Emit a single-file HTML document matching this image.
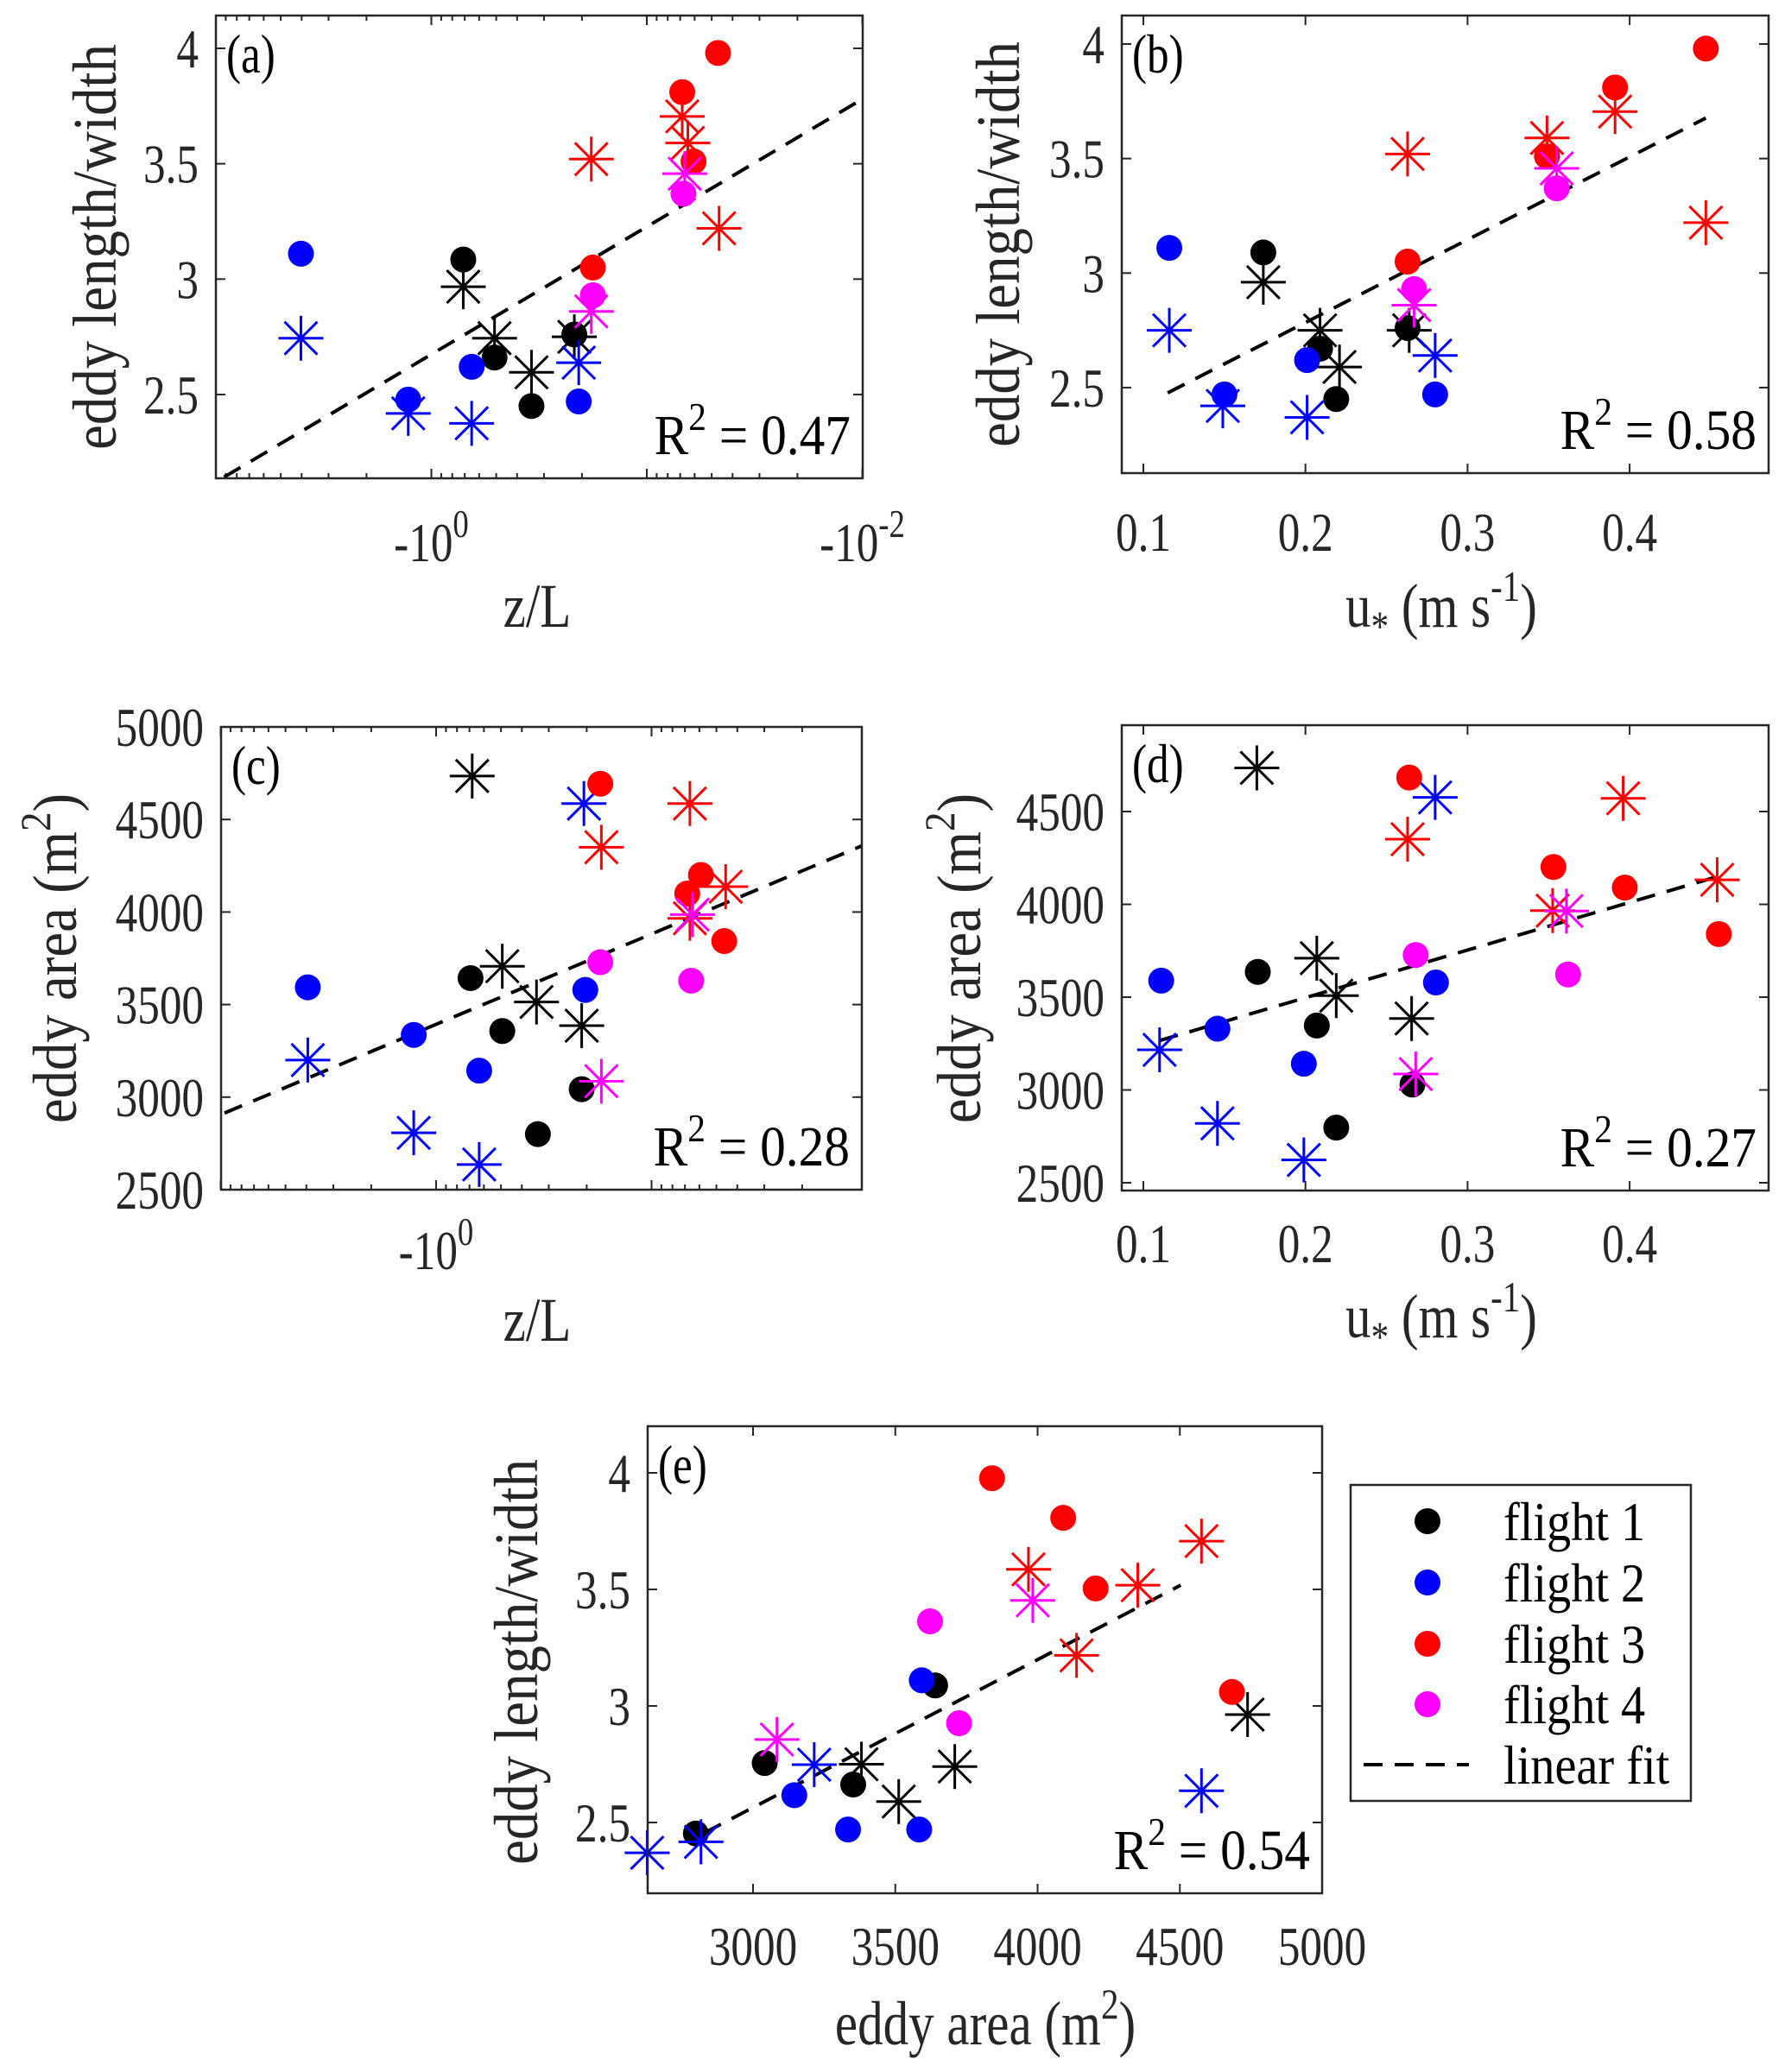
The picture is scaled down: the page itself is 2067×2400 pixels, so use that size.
<!DOCTYPE html>
<html><head><meta charset="utf-8">
<style>
html,body{margin:0;padding:0;background:#fff;}
svg{display:block;font-family:"Liberation Serif","Times New Roman",serif;}
</style></head>
<body>
<svg id="fig" width="2067" height="2400" viewBox="0 0 2067 2400" xmlns="http://www.w3.org/2000/svg"></svg>
<script>
// ---------- data ----------
const flightColors = ["#000000","#0000ff","#ff0000","#ff00ff"];
const legendLabels = ["flight 1","flight 2","flight 3","flight 4","linear fit"];

// Panel (a): z/L vs length/width
const aX = [-0.711,-0.509,-0.343,-0.217, -0.711,-0.509,-0.343,-0.217, -4.03,-1.28,-0.65,-0.207, -4.03,-1.28,-0.65,-0.207, -0.0467,-0.0685,-0.0607,-0.178, -0.0685,-0.0645,-0.181,-0.0462, -0.0676,-0.178, -0.0667,-0.181];
const aY = [3.085,2.66,2.45,2.76, 2.967,2.744,2.596,2.75, 3.11,2.478,2.62,2.47, 2.744,2.418,2.375,2.638, 3.98,3.81,3.51,3.05, 3.705,3.59,3.52,3.22, 3.37,2.93, 3.457,2.86];
const aFitX = [-9.16,-0.01];
const aFitY = [2.142,3.78];

// Panel (b): u* vs length/width
const bX = [0.174,0.209,0.219,0.263, 0.174,0.209,0.221,0.264, 0.116,0.150,0.201,0.280, 0.116,0.149,0.201,0.280, 0.447,0.391,0.349,0.263, 0.391,0.349,0.263,0.447, 0.355,0.267, 0.355,0.267];
const bY = [3.09,2.67,2.45,2.76, 2.96,2.75,2.59,2.75, 3.11,2.47,2.62,2.47, 2.75,2.42,2.37,2.64, 3.98,3.81,3.51,3.05, 3.705,3.59,3.52,3.22, 3.37,2.93, 3.457,2.86];
const bFitX = [0.115,0.447];
const bFitY = [2.477,3.677];

// Panel (c): z/L vs eddy area
const cX = [-0.692,-0.493,-0.337,-0.211, -0.68,-0.493,-0.342,-0.211, -3.94,-1.27,-0.631,-0.203, -3.94,-1.27,-0.631,-0.206, -0.173,-0.059,-0.0683,-0.046, -0.0664,-0.171,-0.0453,-0.0664, -0.173,-0.0655, -0.0645,-0.171];
const cY = [3643,3357,2800,3043, 4735,3707,3514,3386, 3593,3336,3143,3579, 3200,2807,2636,4586, 4693,4200,4100,3843, 4586,4350,4137,3966, 3729,3629, 3986,3086];
const cFitX = [-9.6,-0.0106];
const cFitY = [2914,4357];

// Panel (d): u* vs eddy area
const dX = [0.1706,0.207,0.219,0.266, 0.170,0.207,0.219,0.2655, 0.111,0.1457,0.199,0.2805, 0.110,0.1457,0.199,0.280, 0.264,0.353,0.397,0.455, 0.263,0.396,0.454,0.3525, 0.268,0.362, 0.361,0.268];
const dY = [3636,3347,2797,3029, 4735,3710,3508,3385, 3589,3330,3141,3579, 3216,2820,2623,4576, 4683,4201,4090,3840, 4351,4571,4132,3966, 3727,3622, 3964,3086];
const dFitX = [0.110,0.454];
const dFitY = [3266,4149];

// Panel (e): eddy area vs length/width
const eX = [3640,3041,3352,2799, 4738,3709,3381,3512, 3593,3145,3334,3584, 4576,3215,2817,2628, 3840,4090,4204,4683, 3968,4576,4352,4137, 3622,3724, 3983,3084];
const eY = [3.088,2.755,2.663,2.453, 2.963,2.74,2.75,2.59, 3.11,2.617,2.47,2.47, 2.636,2.748,2.417,2.37, 3.977,3.807,3.504,3.06, 3.586,3.707,3.518,3.217, 3.363,2.926, 3.453,2.856];
const eFitX = [2828,4503];
const eFitY = [2.455,3.518];

const pointFlight = [0,0,0,0, 0,0,0,0, 1,1,1,1, 1,1,1,1, 2,2,2,2, 2,2,2,2, 3,3, 3,3];
const pointMarker = ["dot","dot","dot","dot","ast","ast","ast","ast","dot","dot","dot","dot","ast","ast","ast","ast","dot","dot","dot","dot","ast","ast","ast","ast","dot","dot","ast","ast"];

const rSquared = ["0.47","0.58","0.28","0.27","0.54"];

// ---------- drawing ----------
const NS = "http://www.w3.org/2000/svg";
const svg = document.getElementById("fig");
const AX = "#262626";
function mk(tag, attrs, parent){
  const e = document.createElementNS(NS, tag);
  for (const k in attrs) e.setAttribute(k, attrs[k]);
  (parent||svg).appendChild(e);
  return e;
}
function txt(parent, x, y, size, sx, anchor, html, color, rot){
  const tr = `translate(${x},${y})` + (rot ? ' rotate(-90)' : '') + ` scale(${sx},1)`;
  const t = mk("text",{x:0,y:0,"font-size":size,fill:color||AX,"text-anchor":anchor,transform:tr},parent);
  t.innerHTML = html;
  return t;
}
function drawMarker(g, x, y, color, type){
  let m;
  if (type === "dot"){
    m = mk("circle",{cx:x,cy:y,r:15,fill:color},g);
    
    
  } else {
    const a = 26, d = 19;
    m = mk("path",{d:`M${x-a},${y}H${x+a}M${x},${y-a}V${y+a}M${x-d},${y-d}L${x+d},${y+d}M${x-d},${y+d}L${x+d},${y-d}`,stroke:color,"stroke-width":3,fill:"none"},g);
    
    
  }
}

function panel(p){
  const g = mk("g",{});
  
  
  const [L,T,R,B] = p.box;
  const tk = mk("g",{stroke:AX,"stroke-width":2,fill:"none"},g);
  
  
  p.xMajor.forEach(v=>{const x=p.sx(v); if(x>=L-1&&x<=R+1){mk("line",{x1:x,y1:B,x2:x,y2:B-11},tk);mk("line",{x1:x,y1:T,x2:x,y2:T+11},tk);}});
  (p.xMinor||[]).forEach(v=>{const x=p.sx(v); if(x>=L&&x<=R){mk("line",{x1:x,y1:B,x2:x,y2:B-6},tk);mk("line",{x1:x,y1:T,x2:x,y2:T+6},tk);}});
  p.yTicks.forEach(v=>{const y=p.sy(v); mk("line",{x1:L,y1:y,x2:L+11,y2:y},tk);mk("line",{x1:R,y1:y,x2:R-11,y2:y},tk);});
  p.yTicks.forEach(v=>{
    const t = txt(g, L-20, p.sy(v)+22, 64, 0.8, "end", p.yFmt(v));
    
    
  });
  p.xLabels.forEach(v=>{
    let h;
    if (p.logX){
      const e = Math.round(Math.log10(-v));
      h = `-10<tspan font-size="46" dy="-28">${e}</tspan>`;
    } else h = p.xFmt(v);
    const t = txt(g, p.sx(v), p.xTickBase, 64, 0.8, "middle", h);
    
    
  });
  const f = mk("line",{x1:p.sx(p.fitX[0]),y1:p.sy(p.fitY[0]),x2:p.sx(p.fitX[1]),y2:p.sy(p.fitY[1]),stroke:"#000","stroke-width":4,"stroke-dasharray":"22 14"},g);
  
  
  const pg = mk("g",{},g);
  
  
  p.xs.forEach((v,i)=>{ drawMarker(pg, p.sx(v), p.sy(p.ys[i]), flightColors[pointFlight[i]], pointMarker[i]); });
  const bx = mk("rect",{x:L,y:T,width:R-L,height:B-T,fill:"none",stroke:AX,"stroke-width":2.5},g);
  
  
  const pl = txt(g, L+12, T+66, 64, 0.8, "start", "(" + p.id + ")", "#000");
  
  
  const r2 = txt(g, R-14, B-28, 66, 0.9, "end", `R<tspan font-size="46" dy="-28">2</tspan><tspan dy="28"> = ${p.r2}</tspan>`, "#000");
  
  
  const xl = txt(g, p.xTitle[0], p.xTitle[1], 72, 0.82, "middle", p.xTitleHTML);
  
  
  const yl = txt(g, p.yTitle[0]+22, p.yTitle[1], 72, 0.9, "middle", p.yTitleHTML, AX, true);
  
  
}

const logMinorVals = [];
[0.01,0.1,1].forEach(b=>{for(let k=2;k<=9;k++) logMinorVals.push(-k*b);});

const lwTitle = 'eddy length/width';
const areaTitle = 'eddy area (m<tspan font-size="50" dy="-30">2</tspan><tspan dy="30">)</tspan>';
const ustarTitle = 'u<tspan font-size="50" dy="16">*</tspan><tspan dy="-16"> (m s</tspan><tspan font-size="50" dy="-30">-1</tspan><tspan dy="30">)</tspan>';
const zlTitle = 'z/L';

const uSx = v => 1324 + (v-0.1)*1877;

panel({id:"a", box:[250,18,999,554], logX:true,
  sx: v => 250 + (1 - Math.log10(-v))*249.5, sy: v => 56 + (4-v)*267.3,
  xMajor:[-10,-1,-0.1,-0.01], xMinor:logMinorVals, xLabels:[-1,-0.01], xTickBase:650,
  yTicks:[2.5,3,3.5,4], yFmt:v=>String(v),
  xs:aX, ys:aY, fitX:aFitX, fitY:aFitY, r2:rSquared[0],
  xTitle:[622,726], xTitleHTML:zlTitle, yTitle:[112,286], yTitleHTML:lwTitle});

panel({id:"b", box:[1299,18,2048,548],
  sx: uSx, sy: v => 51 + (4-v)*265.3,
  xMajor:[0.1,0.2,0.3,0.4], xLabels:[0.1,0.2,0.3,0.4], xFmt:v=>v.toFixed(1), xTickBase:638,
  yTicks:[2.5,3,3.5,4], yFmt:v=>String(v),
  xs:bX, ys:bY, fitX:bFitX, fitY:bFitY, r2:rSquared[1],
  xTitle:[1669,726], xTitleHTML:ustarTitle, yTitle:[1158,283], yTitleHTML:lwTitle});

panel({id:"c", box:[256,842,998,1378], logX:true,
  sx: v => 505 - Math.log10(-v)*249.5, sy: v => 842 + (5000-v)*0.2144,
  xMajor:[-10,-1,-0.1,-0.01], xMinor:logMinorVals, xLabels:[-1], xTickBase:1470,
  yTicks:[2500,3000,3500,4000,4500,5000], yFmt:v=>String(v),
  xs:cX, ys:cY, fitX:cFitX, fitY:cFitY, r2:rSquared[2],
  xTitle:[622,1553], xTitleHTML:zlTitle, yTitle:[66,1110], yTitleHTML:areaTitle});

panel({id:"d", box:[1299,840,2048,1379],
  sx: uSx, sy: v => 940 + (4500-v)*0.215,
  xMajor:[0.1,0.2,0.3,0.4], xLabels:[0.1,0.2,0.3,0.4], xFmt:v=>v.toFixed(1), xTickBase:1462,
  yTicks:[2500,3000,3500,4000,4500], yFmt:v=>String(v),
  xs:dX, ys:dY, fitX:dFitX, fitY:dFitY, r2:rSquared[3],
  xTitle:[1669,1549], xTitleHTML:ustarTitle, yTitle:[1113,1110], yTitleHTML:areaTitle});

panel({id:"e", box:[750,1652,1531,2193],
  sx: v => 872 + (v-3000)*0.3295, sy: v => 1706 + (4-v)*270,
  xMajor:[3000,3500,4000,4500,5000], xLabels:[3000,3500,4000,4500,5000], xFmt:v=>String(v), xTickBase:2276,
  yTicks:[2.5,3,3.5,4], yFmt:v=>String(v),
  xs:eX, ys:eY, fitX:eFitX, fitY:eFitY, r2:rSquared[4],
  xTitle:[1141,2368], xTitleHTML:areaTitle, yTitle:[600,1925], yTitleHTML:lwTitle});

// legend
const lg = mk("g",{});


const lb = mk("rect",{x:1564,y:1720,width:394,height:366,fill:"#fff",stroke:AX,"stroke-width":2.5},lg);


const legY = [1762,1833,1904,1974,2044];
legendLabels.forEach((lab,i)=>{
  const y = legY[i];
  if (i < 4){
    const c = mk("circle",{cx:1653,cy:y,r:15,fill:flightColors[i]},lg);
    
    
  } else {
    const l = mk("line",{x1:1579,y1:y,x2:1701,y2:y,stroke:"#000","stroke-width":4,"stroke-dasharray":"22 14"},lg);
    
    
  }
  const t = txt(lg, 1741, y+22, 64, 0.88, "start", lab, "#000");
  
  
});
</script>
</body></html>
